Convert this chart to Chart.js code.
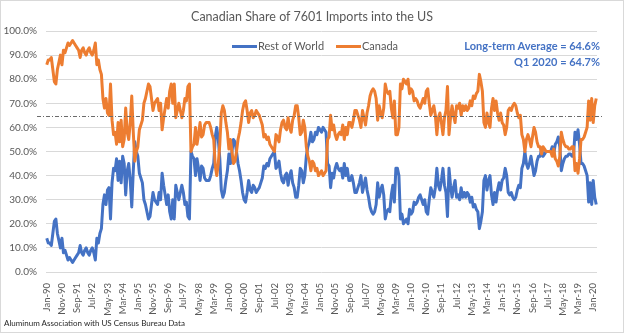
<!DOCTYPE html>
<html lang="en">
<head>
    <meta charset="UTF-8">
    <title>Canadian Share of 7601 Imports into the US</title>
    <script src="https://cdn.jsdelivr.net/npm/chart.js"></script>
    <style>
        body {
            margin: 0;
            background: #fff;
            font-family: Lato, Arial, sans-serif;
        }
        #frame {
            position: relative;
            width: 624px;
            height: 333px;
            overflow: hidden;
        }
        #frame canvas {
            position: absolute;
            left: 0;
            top: 0;
        }
        #border {
            position: absolute;
            left: 0;
            top: 0;
            width: 622px;
            height: 331px;
            border: 1px solid #d9d9d9;
            pointer-events: none;
        }
        .txt {
            position: absolute;
            white-space: nowrap;
            color: #595959;
        }
        #title {
            left: 0;
            width: 624px;
            top: 9px;
            text-align: center;
            font-size: 12.5px;
        }
        .key {
            position: absolute;
            height: 3px;
            width: 25px;
        }
        .note {
            right: 24px;
            font-weight: bold;
            font-size: 11px;
            color: #4472c4;
            text-align: right;
        }
        #source {
            left: 4px;
            top: 318px;
            font-size: 8px;
            color: #262626;
        }
    </style>
</head>
<body>

<div id="frame">
    <canvas id="shareChart" width="624" height="333"></canvas>
    <div id="border"></div>
    <div class="txt" id="title">Canadian Share of 7601 Imports into the US</div>

    <!-- legend -->
    <div class="key" style="left:232px; top:45px; background:#4472c4;"></div>
    <div class="txt" style="left:258px; top:39px; font-size:11px;">Rest of World</div>
    <div class="key" style="left:336px; top:45px; background:#ed7d31;"></div>
    <div class="txt" style="left:362px; top:39px; font-size:11px;">Canada</div>

    <div class="txt note" style="top:39px;">Long-term Average = 64.6%</div>
    <div class="txt note" style="top:55px;">Q1 2020 = 64.7%</div>

    <div class="txt" id="source">Aluminum Association with US Census Bureau Data</div>
</div>

<script>
    // Monthly shares, Jan-1990 .. Mar-2020 (percent of US 7601 imports)
    const canada = [
        86, 88, 88, 89, 84, 79, 78, 84, 87, 90, 86, 92,   // 1990
        91, 93, 95, 94, 95, 96, 95, 94, 93, 92, 89, 92,   // 1991
        93, 91, 90, 92, 93, 91, 90, 92, 95, 86, 88, 84,   // 1992
        82, 72, 68, 72, 66, 65, 78, 63, 57, 58, 53, 62,   // 1993
        54, 63, 52, 55, 68, 58, 55, 62, 73, 58, 46, 50,   // 1994
        52, 59, 61, 63, 70, 72, 75, 78, 77, 72, 67, 70,   // 1995
        71, 72, 67, 70, 59, 64, 68, 72, 68, 75, 78, 70,   // 1996
        78, 64, 67, 70, 67, 64, 67, 72, 71, 77, 78, 50,   // 1997
        52, 53, 60, 53, 57, 62, 56, 57, 61, 62, 62, 62,   // 1998
        60, 57, 55, 44, 40, 45, 53, 66, 69, 67, 62, 58,   // 1999
        51, 55, 50, 45, 46, 50, 55, 58, 62, 67, 70, 71,   // 2000
        67, 62, 66, 67, 64, 65, 67, 66, 65, 63, 61, 56,   // 2001
        57, 55, 56, 53, 52, 51, 50, 57, 56, 54, 59, 62,   // 2002
        63, 60, 59, 64, 60, 58, 63, 65, 69, 69, 64, 57,   // 2003
        58, 63, 60, 52, 48, 46, 42, 46, 45, 42, 43, 40,   // 2004
        41, 42, 40, 41, 42, 55, 56, 65, 59, 61, 57, 55,   // 2005
        57, 58, 57, 61, 55, 60, 57, 62, 62, 60, 63, 67,   // 2006
        67, 65, 63, 60, 67, 64, 61, 66, 69, 73, 75, 76,   // 2007
        75, 72, 63, 69, 66, 64, 68, 78, 75, 74, 75, 68,   // 2008
        64, 71, 57, 57, 60, 78, 76, 80, 79, 78, 80, 74,   // 2009
        76, 75, 71, 72, 71, 69, 68, 70, 72, 70, 75, 76,   // 2010
        70, 65, 67, 69, 65, 57, 64, 66, 62, 57, 64, 67,   // 2011
        77, 57, 64, 69, 65, 62, 69, 68, 70, 65, 69, 67,   // 2012
        69, 67, 68, 71, 69, 73, 72, 74, 75, 82, 79, 75,   // 2013
        62, 60, 66, 62, 60, 68, 72, 67, 71, 66, 63, 66,   // 2014
        62, 61, 57, 60, 67, 68, 67, 69, 70, 69, 66, 64,   // 2015
        65, 57, 55, 50, 55, 57, 55, 52, 56, 60, 58, 54,   // 2016
        52, 52, 49, 52, 51, 50, 50, 50, 50, 48, 51, 47,   // 2017
        46, 44, 48, 58, 55, 53, 52, 52, 51, 51, 52, 52,   // 2018
        42, 45, 41, 47, 55, 55, 56, 58, 60, 71, 63, 72,   // 2019
        62, 69, 72                                        // 2020 Q1
    ];

    const restOfWorld = [
        14, 12, 12, 11, 16, 21, 22, 16, 13, 10, 14, 8,
        9, 7, 5, 6, 5, 4, 5, 6, 7, 8, 11, 8,
        7, 9, 10, 8, 7, 9, 10, 8, 5, 14, 12, 16,
        18, 28, 32, 28, 34, 35, 22, 37, 43, 42, 47, 38,
        46, 37, 48, 45, 32, 42, 45, 38, 27, 42, 54, 50,
        48, 41, 39, 37, 30, 28, 25, 22, 23, 28, 33, 30,
        29, 28, 33, 30, 41, 36, 32, 28, 32, 25, 22, 30,
        22, 36, 33, 30, 33, 36, 33, 28, 29, 23, 22, 50,
        48, 47, 40, 47, 43, 38, 44, 43, 39, 38, 38, 38,
        40, 43, 45, 56, 60, 55, 47, 34, 31, 33, 38, 42,
        49, 45, 50, 55, 54, 50, 45, 42, 38, 33, 30, 29,
        33, 38, 34, 33, 36, 35, 33, 34, 35, 37, 39, 44,
        43, 45, 44, 47, 48, 49, 50, 43, 44, 46, 41, 38,
        37, 40, 41, 36, 40, 42, 37, 35, 31, 31, 36, 43,
        42, 37, 40, 48, 52, 54, 58, 54, 55, 58, 57, 60,
        59, 58, 60, 59, 58, 45, 44, 35, 41, 39, 43, 45,
        43, 42, 43, 39, 45, 40, 43, 38, 38, 40, 37, 33,
        33, 35, 37, 40, 33, 36, 39, 34, 31, 27, 25, 24,
        25, 28, 37, 31, 34, 36, 32, 22, 25, 26, 25, 32,
        36, 29, 43, 43, 40, 22, 24, 20, 21, 22, 20, 26,
        24, 25, 29, 28, 29, 31, 32, 30, 28, 30, 25, 24,
        30, 35, 33, 31, 35, 43, 36, 34, 38, 43, 36, 33,
        23, 43, 36, 31, 35, 38, 31, 32, 30, 35, 31, 33,
        31, 33, 32, 29, 31, 27, 28, 26, 25, 18, 21, 25,
        38, 40, 34, 38, 40, 32, 28, 33, 29, 34, 37, 34,
        38, 39, 43, 40, 33, 32, 33, 31, 30, 31, 34, 36,
        35, 43, 45, 50, 45, 43, 45, 48, 44, 40, 42, 46,
        48, 48, 51, 48, 49, 50, 50, 50, 50, 52, 49, 53,
        54, 56, 52, 42, 45, 47, 48, 48, 49, 49, 48, 48,
        58, 55, 59, 53, 45, 45, 44, 42, 40, 29, 37, 28,
        38, 31, 28
    ];

    const longTermAverage = 64.6;

    // month labels Jan-90 .. Mar-20, one per data point; every 10th is shown
    const monthNames = ['Jan', 'Feb', 'Mar', 'Apr', 'May', 'Jun', 'Jul', 'Aug', 'Sep', 'Oct', 'Nov', 'Dec'];
    const labelEvery = 10;
    const categories = canada.map((v, i) => {
        const yy = (1990 + Math.floor(i / 12)) % 100;
        return monthNames[i % 12] + '-' + String(yy).padStart(2, '0');
    });

    const axisFont = { family: 'Lato', size: 9.5 };
    const grey = '#595959';

    // dash-dot average line, runs a bit past both plot edges
    const averageLine = {
        id: 'averageLine',
        afterDatasetsDraw(chart) {
            const y = chart.scales.y.getPixelForValue(longTermAverage);
            const ctx = chart.ctx;
            ctx.save();
            ctx.strokeStyle = '#6b6b6b';
            ctx.lineWidth = 1;
            ctx.setLineDash([4, 2, 1, 2]);
            ctx.beginPath();
            ctx.moveTo(chart.chartArea.left - 9, Math.round(y) + 0.5);
            ctx.lineTo(chart.chartArea.right + 6, Math.round(y) + 0.5);
            ctx.stroke();
            ctx.restore();
        }
    };

    const ctx = document.getElementById('shareChart').getContext('2d');
    const shareChart = new Chart(ctx, {
        type: 'line',
        data: {
            labels: categories,
            datasets: [{
                label: 'Rest of World',
                data: restOfWorld,
                borderColor: '#4472c4',
                borderWidth: 3,
                pointRadius: 0,
                order: 1
            }, {
                label: 'Canada',
                data: canada,
                borderColor: '#ed7d31',
                borderWidth: 3,
                pointRadius: 0,
                order: 0
            }]
        },
        options: {
            responsive: false,
            animation: false,
            layout: { padding: { top: 31, right: 27, left: 0, bottom: 0 } },
            plugins: {
                legend: { display: false },
                title: { display: false },
                tooltip: { enabled: false }
            },
            elements: { line: { tension: 0, borderJoinStyle: 'round' } },
            scales: {
                x: {
                    type: 'category',
                    offset: true,
                    grid: { display: false },
                    border: { display: false },
                    ticks: {
                        autoSkip: false,
                        minRotation: 90,
                        maxRotation: 90,
                        padding: 3,
                        color: grey,
                        font: axisFont,
                        callback: (v, i) => (i % labelEvery === 0 ? categories[i] : '')
                    },
                    afterFit: (s) => { s.height = 61; }
                },
                y: {
                    min: 0,
                    max: 100,
                    grid: { color: '#d9d9d9', drawTicks: false },
                    border: { display: false },
                    ticks: {
                        stepSize: 10,
                        padding: 9,
                        color: grey,
                        font: { family: 'Lato', size: 10 },
                        callback: (v) => v.toFixed(1) + '%'
                    },
                    afterFit: (s) => { s.width = 46; }
                }
            }
        },
        plugins: [averageLine]
    });
</script>

</body>
</html>
